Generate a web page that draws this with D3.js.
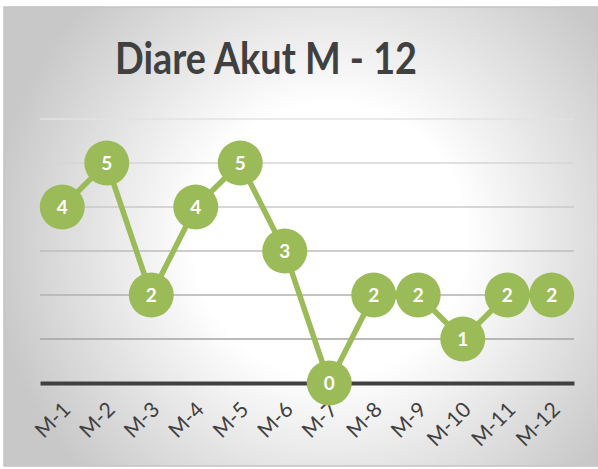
<!DOCTYPE html>
<html>
<head>
<meta charset="utf-8">
<script src="https://cdn.jsdelivr.net/npm/d3@7"></script>
<style>
  html, body { margin: 0; padding: 0; background: #fff; }
  svg { display: block; }
</style>
</head>
<body>
<script>
let months = ['M-1', 'M-2', 'M-3', 'M-4', 'M-5', 'M-6', 'M-7', 'M-8', 'M-9', 'M-10', 'M-11', 'M-12']
let cases = [4, 5, 2, 4, 5, 3, 0, 2, 2, 1, 2, 2]
let yTicks = [0, 1, 2, 3, 4, 5, 6]
let title = 'Diare Akut M - 12'

let W = 598, H = 469
let plot = {left: 40, right: 574, top: 119, bottom: 383}
let font = 'Lato, "Open Sans", sans-serif'

let svg = d3.select('body').append('svg')
  .attr('width', W).attr('height', H)

let defs = svg.append('defs')
let bg = defs.append('radialGradient').attr('id', 'bg')
  .attr('gradientUnits', 'userSpaceOnUse')
  .attr('cx', 330).attr('cy', 240).attr('r', 340)
bg.append('stop').attr('offset', '0').attr('stop-color', '#ffffff')
bg.append('stop').attr('offset', '0.4').attr('stop-color', '#ffffff')
bg.append('stop').attr('offset', '1').attr('stop-color', '#c8c8c8')

let gridGrad = defs.append('linearGradient').attr('id', 'grid')
  .attr('gradientUnits', 'userSpaceOnUse')
  .attr('x1', 0).attr('y1', plot.top).attr('x2', 0).attr('y2', 340)
gridGrad.append('stop').attr('offset', '0').attr('stop-color', '#e2e2e2')
gridGrad.append('stop').attr('offset', '1').attr('stop-color', '#a4a4a4')

// chart background
svg.append('rect')
  .attr('x', 4).attr('y', 7).attr('width', W - 4).attr('height', 459)
  .attr('fill', 'url(#bg)')
  .attr('stroke', '#c4c4c4').attr('stroke-width', 1.5)

svg.append('text')
  .attr('x', 115).attr('y', 74)
  .attr('font-family', font)
  .attr('font-weight', 'bold')
  .attr('font-size', 44)
  .attr('fill', '#404040')
  .attr('textLength', 302)
  .attr('lengthAdjust', 'spacingAndGlyphs')
  .text(title)

let x = d3.scalePoint().domain(months)
  .range([plot.left, plot.right]).padding(0.5)
let y = d3.scaleLinear().domain([0, 6])
  .range([plot.bottom, plot.top])

// gridlines
svg.append('g')
  .selectAll('line')
  .data(yTicks.filter(d => d > 0))
  .join('line')
  .attr('x1', plot.left).attr('x2', plot.right)
  .attr('y1', d => y(d)).attr('y2', d => y(d))
  .attr('stroke', 'url(#grid)').attr('stroke-width', 1.5)

// x axis
let xAxis = svg.append('g')
  .attr('transform', `translate(0, ${y(0)})`)
  .call(d3.axisBottom(x).tickSize(0).tickSizeOuter(0))
xAxis.attr('font-size', null).attr('font-family', null)
xAxis.select('.domain').attr('stroke', '#404040').attr('stroke-width', 4)
xAxis.selectAll('text')
  .attr('font-family', font)
  .attr('font-size', 21)
  .attr('fill', '#404040')
  .attr('text-anchor', 'end')
  .attr('dy', null).attr('y', 0)
  .attr('transform', 'translate(9, 28) rotate(-45)')

// line
svg.append('path')
  .datum(cases)
  .attr('fill', 'none')
  .attr('stroke', '#9bbb59')
  .attr('stroke-width', 5.5)
  .attr('stroke-linejoin', 'round')
  .attr('d', d3.line().x((d, i) => x(months[i])).y(d => y(d)))

let pts = svg.append('g').selectAll('g')
  .data(cases)
  .join('g')
  .attr('transform', (d, i) => `translate(${x(months[i])}, ${y(d)})`)
pts.append('circle').attr('r', 22.5).attr('fill', '#9bbb59')
pts.append('text')
  .attr('text-anchor', 'middle')
  .attr('dy', '0.36em')
  .attr('font-family', font)
  .attr('font-weight', 'bold')
  .attr('font-size', 19)
  .attr('fill', '#ffffff')
  .text(d => d)
</script>
</body>
</html>
